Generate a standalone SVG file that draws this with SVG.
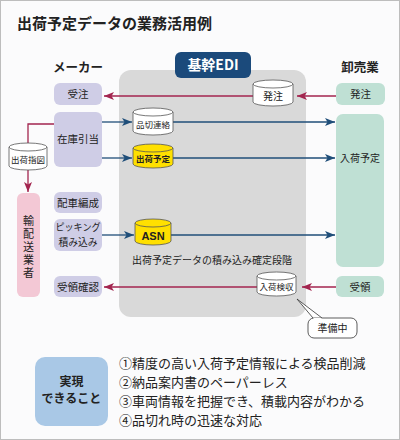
<svg xmlns="http://www.w3.org/2000/svg" width="400" height="440" viewBox="0 0 400 440">
<defs>
<style>
text{font-family:"Noto Sans CJK JP","Noto Sans",sans-serif;fill:#222}
.lb{fill:#cfcde6}
.gr{fill:#bfe0d4}
.cyl{fill:#fff;stroke:#555;stroke-width:0.8}
.cyy{fill:#ffe000;stroke:#555;stroke-width:0.8}
.bl{stroke:#1f4e79;stroke-width:1.3;fill:none}
.rd{stroke:#a3254f;stroke-width:1.3;fill:none}
.t11{font-size:10.5px}
.t9{font-size:8.5px}
.hd{font-size:12.5px;font-weight:bold}
</style>
<marker id="ab" viewBox="0 0 10 8" refX="10" refY="4" markerWidth="10" markerHeight="8" markerUnits="userSpaceOnUse" orient="auto"><path d="M0,0 L10,4 L0,8 L2.5,4 z" fill="#1f4e79"/></marker>
<marker id="ar" viewBox="0 0 10 8" refX="10" refY="4" markerWidth="10" markerHeight="8" markerUnits="userSpaceOnUse" orient="auto"><path d="M0,0 L10,4 L0,8 L2.5,4 z" fill="#a3254f"/></marker>
</defs>
<rect x="0.5" y="0.5" width="399" height="439" fill="#fbfbfc" stroke="#bdbdbd"/>
<text x="17" y="29" font-size="15" font-weight="bold">出荷予定データの業務活用例</text>

<g id="edi-panel">
<rect x="119" y="70" width="187" height="247" rx="12" fill="#d9d9d9"/>
<rect x="175" y="52" width="76" height="26" rx="6" fill="#1b4a7b"/>
<text x="213" y="70" font-size="14" font-weight="bold" text-anchor="middle" style="fill:#fff">基幹EDI</text>
</g>

<g id="headers">
<text x="78" y="72" class="hd" text-anchor="middle">メーカー</text>
<text x="360" y="72" class="hd" text-anchor="middle">卸売業</text>
</g>

<g id="connectors">
<line class="rd" x1="336" y1="96" x2="297" y2="96" marker-end="url(#ar)"/>
<line class="rd" x1="253" y1="96" x2="104" y2="96" marker-end="url(#ar)"/>
<line class="bl" x1="102" y1="122" x2="132" y2="122" marker-end="url(#ab)"/>
<line class="bl" x1="173" y1="122" x2="335" y2="122" marker-end="url(#ab)"/>
<line class="bl" x1="102" y1="158" x2="132" y2="158" marker-end="url(#ab)"/>
<line class="bl" x1="173" y1="158" x2="335" y2="158" marker-end="url(#ab)"/>
<line class="bl" x1="102" y1="235" x2="134" y2="235" marker-end="url(#ab)"/>
<line class="bl" x1="171" y1="235" x2="335" y2="235" marker-end="url(#ab)"/>
<line class="rd" x1="336" y1="287" x2="302" y2="287" marker-end="url(#ar)"/>
<line class="rd" x1="257" y1="287" x2="104" y2="287" marker-end="url(#ar)"/>
<polyline class="rd" points="54,124 28,124 28,143"/>
<line class="rd" x1="28" y1="170" x2="28" y2="192" marker-end="url(#ar)"/>
</g>

<g id="n-juchu"><rect class="lb" x="54" y="83" width="48" height="22" rx="6"/><text x="78" y="98" class="t11" text-anchor="middle">受注</text></g>
<g id="n-zaiko"><rect class="lb" x="54" y="112" width="48" height="55" rx="6"/><text x="78" y="143" class="t11" text-anchor="middle">在庫引当</text></g>
<g id="n-haisha"><rect class="lb" x="54" y="192" width="48" height="21" rx="6"/><text x="78" y="206.5" class="t11" text-anchor="middle">配車編成</text></g>
<g id="n-picking"><rect class="lb" x="54" y="219" width="48" height="32" rx="6"/><text x="78" y="231" font-size="9.8" text-anchor="middle" textLength="45" lengthAdjust="spacingAndGlyphs">ピッキング</text><text x="78" y="246" font-size="9.8" text-anchor="middle">積み込み</text></g>
<g id="n-juryokakunin"><rect class="lb" x="54" y="276" width="48" height="21" rx="6"/><text x="78" y="290.5" class="t11" text-anchor="middle">受領確認</text></g>

<g id="n-yuhaiso"><rect x="17" y="193" width="23" height="104" rx="6" fill="#f3c8d5"/>
<text x="28.5" y="215" font-size="11" style="writing-mode:vertical-rl;letter-spacing:2px">輸配送業者</text></g>

<g id="n-shukkasashizu"><path class="cyl" d="M9,147 L9,166 A19,4 0 0 0 47,166 L47,147"/><ellipse class="cyl" cx="28" cy="147" rx="19" ry="4"/><text x="28" y="163" class="t9" text-anchor="middle">出荷指図</text></g>

<g id="n-hatchu-db"><path class="cyl" d="M253,84 L253,102 A20,4 0 0 0 293,102 L293,84"/><ellipse class="cyl" cx="273" cy="84" rx="20" ry="4"/><text x="273" y="100" text-anchor="middle" style="font-size:10px">発注</text></g>
<g id="n-shinagire"><path class="cyl" d="M133,112 L133,131 A20,4 0 0 0 173,131 L173,112"/><ellipse class="cyl" cx="153" cy="112" rx="20" ry="4"/><text x="153" y="128" class="t9" text-anchor="middle">品切連絡</text></g>
<g id="n-shukkayotei"><path class="cyy" d="M133,148 L133,164 A20,4 0 0 0 173,164 L173,148"/><ellipse class="cyy" cx="153" cy="148" rx="20" ry="4"/><text x="153" y="162" class="t9" font-weight="bold" text-anchor="middle">出荷予定</text></g>
<g id="n-asn"><path class="cyy" d="M135,223 L135,241 A18,4 0 0 0 171,241 L171,223"/><ellipse class="cyy" cx="153" cy="223" rx="18" ry="4"/><text x="153" y="240" text-anchor="middle" style="font-family:'Liberation Sans',sans-serif;font-size:11px;font-weight:bold">ASN</text></g>
<text x="212" y="264" font-size="10" text-anchor="middle">出荷予定データの積み込み確定段階</text>
<g id="n-nyukakenshu"><path class="cyl" d="M257,276 L257,292 A19.5,4 0 0 0 296,292 L296,276"/><ellipse class="cyl" cx="276.5" cy="276" rx="19.5" ry="4"/><text x="276.5" y="290" class="t9" text-anchor="middle">入荷検収</text></g>

<g id="n-junbichu"><path d="M313,318 L297,299 L322,318" fill="#fff" stroke="#333" stroke-width="0.8"/><rect x="308" y="318" width="49" height="20" rx="6" fill="#fff" stroke="#333" stroke-width="0.8"/><path d="M313.5,318.5 L321.5,318.5" stroke="#fff" stroke-width="1.2"/><text x="332.5" y="332" font-size="10" text-anchor="middle">準備中</text></g>

<g id="n-hatchu"><rect class="gr" x="336" y="83" width="49" height="22" rx="6"/><text x="360.5" y="98" class="t11" text-anchor="middle">発注</text></g>
<g id="n-nyukayotei"><rect class="gr" x="336" y="114" width="48" height="153" rx="7"/><text x="360" y="162" font-size="10" text-anchor="middle">入荷予定</text></g>
<g id="n-juryo"><rect class="gr" x="336" y="276" width="48" height="21" rx="6"/><text x="360" y="290.5" class="t11" text-anchor="middle">受領</text></g>

<g id="n-jitsugen"><rect x="35" y="357" width="73" height="69" rx="10" fill="#a9c8e6"/>
<text x="71.5" y="386" font-size="12" font-weight="bold" text-anchor="middle">実現</text>
<text x="71.5" y="403" font-size="12" font-weight="bold" text-anchor="middle">できること</text></g>
<g id="list" font-size="13">
<text x="119" y="368">①精度の高い入荷予定情報による検品削減</text>
<text x="119" y="387">②納品案内書のペーパーレス</text>
<text x="119" y="405.5">③車両情報を把握でき、積載内容がわかる</text>
<text x="119" y="424.5">④品切れ時の迅速な対応</text>
</g>
</svg>
